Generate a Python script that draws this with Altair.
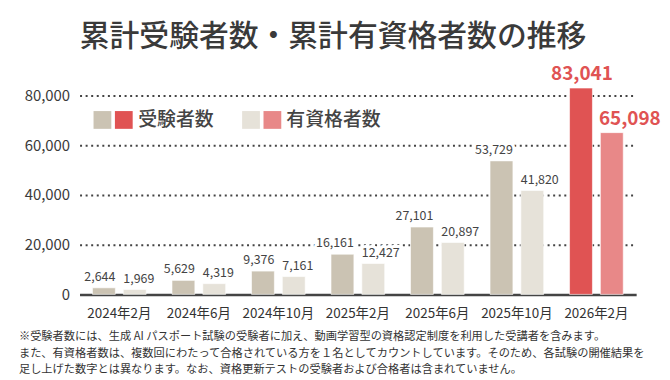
import altair as alt
import pandas as pd

# ---- data ----
months = ["2024年2月", "2024年6月", "2024年10月", "2025年2月", "2025年6月", "2025年10月", "2026年2月"]
examinees = [2644, 5629, 9376, 16161, 27101, 53729, 83041]
qualified = [1969, 4319, 7161, 12427, 20897, 41820, 65098]
series_names = ["受験者数", "有資格者数"]
y_ticks = [0, 20000, 40000, 60000, 80000]
title_text = "累計受験者数・累計有資格者数の推移"
notes = [
    "※受験者数には、生成 AI パスポート試験の受験者に加え、動画学習型の資格認定制度を利用した受講者を含みます。",
    "また、有資格者数は、複数回にわたって合格されている方を１名としてカウントしています。そのため、各試験の開催結果を",
    "足し上げた数字とは異なります。なお、資格更新テストの受験者および合格者は含まれていません。",
]
highlight_month = "2026年2月"

rows = []
for m, a, b in zip(months, examinees, qualified):
    for s, v in zip(series_names, [a, b]):
        hl = m == highlight_month
        rows.append({"month": m, "series": s, "value": v, "hl": hl,
                     "key": s + ("_hl" if hl else "")})
df = pd.DataFrame(rows)

FONT = "Noto Sans CJK JP"
BEIGE, LIGHT, RED, PINK = "#cbc3b3", "#e6e2d9", "#e05353", "#e88888"
TXT = "#444444"

x_scale = alt.Scale(paddingInner=0, paddingOuter=0)
off_scale = alt.Scale(paddingInner=0.258, paddingOuter=0.419)
y_scale = alt.Scale(domain=[0, 90000], nice=False)
x_axis = alt.Axis(labelFontSize=13.5, labelColor="#333333", labelAngle=0,
                  labelPadding=12, ticks=False, domainColor="#444444",
                  domainWidth=2.5, labelFont=FONT, grid=False)
y_axis = alt.Axis(values=y_ticks, format=",.0f", labelFontSize=15,
                  labelColor="#3a3a3a", labelPadding=10, ticks=False, domain=False,
                  grid=True, gridColor="#444444", gridDash=[2, 3.6],
                  gridWidth=2, gridOpacity=1, labelFont=FONT)

x_enc = alt.X("month:N", sort=months, title=None, scale=x_scale, axis=x_axis)
xoff = alt.XOffset("series:N", sort=series_names, scale=off_scale)
y_enc = alt.Y("value:Q", title=None, scale=y_scale, axis=y_axis)

base = alt.Chart(df)

bars = base.mark_bar(stroke="white", strokeWidth=1, strokeOpacity=0.6).encode(
    x=x_enc, xOffset=xoff, y=y_enc,
    color=alt.Color("key:N", legend=None,
                    scale=alt.Scale(domain=["受験者数", "有資格者数", "受験者数_hl", "有資格者数_hl"],
                                    range=[BEIGE, LIGHT, RED, PINK])),
)


def labels(filt, align, dx, size, weight, color, halo=False):
    kw = dict(align=align, baseline="bottom", dx=dx, dy=-4, fontSize=size,
              fontWeight=weight, font=FONT)
    if halo:
        kw.update(stroke="white", strokeWidth=6, fill="white", strokeJoin="round")
    else:
        kw.update(color=color)
    return base.transform_filter(filt).mark_text(**kw).encode(
        x=x_enc, xOffset=xoff, y=y_enc,
        text=alt.Text("value:Q", format=","))


f_rec = "datum.series == '受験者数' && !datum.hl"
f_qual = "datum.series == '有資格者数' && !datum.hl"
f_rec_hl = "datum.series == '受験者数' && datum.hl"
f_qual_hl = "datum.series == '有資格者数' && datum.hl"

halo_layers = [labels(f_rec, "right", 11.5, 12.5, "normal", TXT, True),
               labels(f_qual, "left", -11.5, 12.5, "normal", TXT, True)]
label_layers = [labels(f_rec, "right", 11.5, 12.5, "normal", TXT),
                labels(f_qual, "left", -11.5, 12.5, "normal", TXT),
                labels(f_rec_hl, "center", 1, 19, "bold", RED),
                labels(f_qual_hl, "left", -13, 19, "bold", RED)]

# plot origin is at page (80, 70)
OX, OY = 80, 70


def txt(s, x, y, **kw):
    return alt.Chart(pd.DataFrame({"t": [s]})).mark_text(font=FONT, **kw).encode(
        text="t:N", x=alt.value(x - OX), y=alt.value(y - OY))


title = txt(title_text, 335, 36, fontSize=30, fontWeight=500, color="#3a3a3a",
            align="center", baseline="middle")

legend_cols = [BEIGE, RED, LIGHT, PINK]
legend_sq_x = [103, 124.5, 252.5, 274]
sq = [alt.Chart(pd.DataFrame({"a": [0]})).mark_square(size=320, color=c, opacity=1).encode(
    x=alt.value(px - OX), y=alt.value(119.5 - OY)) for c, px in zip(legend_cols, legend_sq_x)]
leg_txt = [txt(series_names[0], 139, 120, fontSize=19, fontWeight=500, color=TXT,
               align="left", baseline="middle"),
           txt(series_names[1], 288, 120, fontSize=19, fontWeight=500, color=TXT,
               align="left", baseline="middle")]

note_layers = [txt(n, 19, yy, fontSize=11.3, color="#333333", align="left", baseline="middle")
               for n, yy in zip(notes, [338, 355, 371.5])]

chart = alt.layer(*halo_layers, bars, *label_layers, title, *sq, *leg_txt, *note_layers).properties(
    width=560, height=225,
    autosize=alt.AutoSizeParams(type="none"),
    padding={"left": 72, "top": 62, "right": 26, "bottom": 85},
).configure(font=FONT).configure_view(stroke=None, strokeWidth=0)

chart.save("out.html", embed_options={"renderer": "svg", "actions": False})
